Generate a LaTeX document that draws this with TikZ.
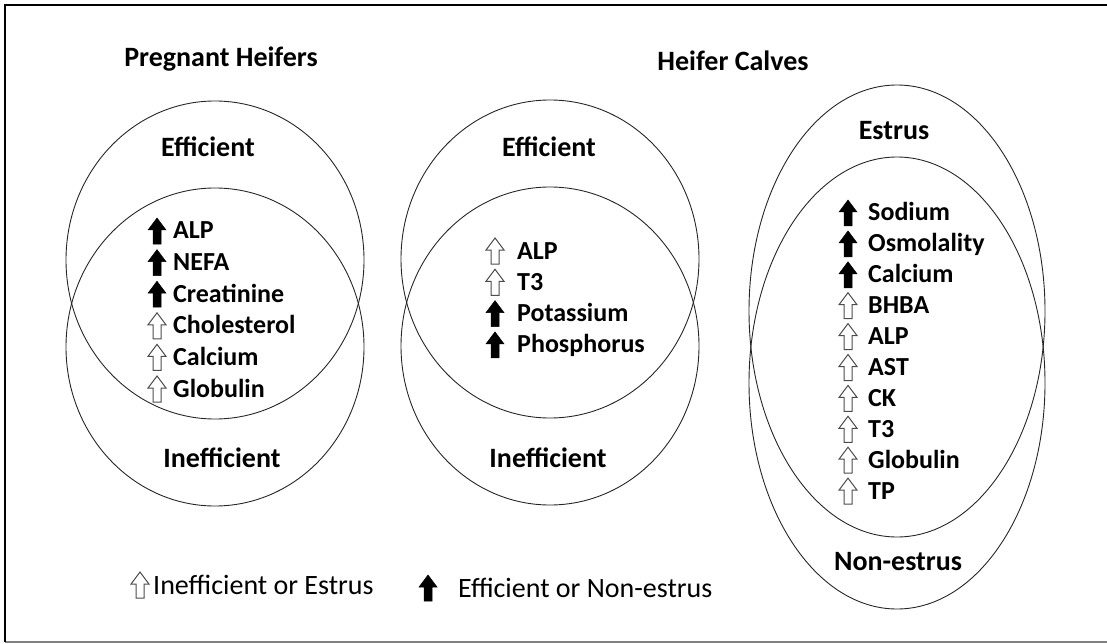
\documentclass[tikz,border=0pt]{standalone}
\usepackage{fontspec}
\setmainfont{Carlito}
\usepackage{tikz}
\usetikzlibrary{positioning}
\tikzset{
  fullarrow/.pic={\filldraw[black, line width=0.5pt] (-4,13) -- (-4,-1) -- (-9,-1) -- (0,-13) -- (9,-1) -- (4,-1) -- (4,13) -- cycle;},
  openarrow/.pic={\filldraw[fill=white, draw=black!70, line width=1pt] (-4,13) -- (-4,-1) -- (-9,-1) -- (0,-13) -- (9,-1) -- (4,-1) -- (4,13) -- cycle;},
  item/.style={anchor=west, inner sep=0pt, text height=17pt, text depth=1pt, font=\bfseries\fontsize{26}{26}\selectfont},
  label/.style={font=\bfseries\fontsize{28}{28}\selectfont},
  legend/.style={anchor=west, inner sep=0pt, font=\fontsize{28}{28}\selectfont},
  set/.style={line width=0.9pt, black!85}
}

\begin{document}
\begin{tikzpicture}[x=1pt, y=-1pt]
    \useasboundingbox (0,0) rectangle (1107,644);
    % FRAME
    \draw[gray, line width=1.2pt] (1107,642) -- (5,642);
    \draw[line width=2.4pt] (5,642) -- (5,5) -- (1107,5);
    % TITLES
    \node[label] (ph) at (221,59) {Pregnant Heifers};
    \node[label] (hc) at (733,61) {Heifer Calves};
    % PREGNANT HEIFERS
    \draw[set] (215,260) ellipse [x radius=149, y radius=159];
    \draw[set] (215,347) ellipse [x radius=149, y radius=159];
    \node[label] (effa) at (208,147) {Efficient};
    \node[label] (ineffa) at (222,458) {Inefficient};
    \foreach \name/\kind [count=\i] in {ALP/full, NEFA/full, Creatinine/full, Cholesterol/open, Calcium/open, Globulin/open} {
        \node[item] (a\i) at (173, {231+31.6*(\i-1)}) {\name};
        \pic at ([xshift=-16pt]a\i.west) {\kind arrow};
    }
    % HEIFER CALVES, EFFICIENCY
    \draw[set] (550,259) ellipse [x radius=149, y radius=159];
    \draw[set] (550,346) ellipse [x radius=149, y radius=159];
    \node[label] (effb) at (549,147) {Efficient};
    \node[label] (ineffb) at (548,458) {Inefficient};
    \foreach \name/\kind [count=\i] in {ALP/open, T3/open, Potassium/full, Phosphorus/full} {
        \node[item] (b\i) at (517, {251+31.3*(\i-1)}) {\name};
        \pic at ([xshift=-22pt]b\i.west) {\kind arrow};
    }
    % HEIFER CALVES, ESTRUS
    \draw[set] (897,311) ellipse [x radius=148, y radius=226];
    \draw[set] (897,383) ellipse [x radius=148, y radius=226];
    \node[label] (es) at (894,131) {Estrus};
    \node[label] (nes) at (898,562) {Non-estrus};
    \foreach \name/\kind [count=\i] in {Sodium/full, Osmolality/full, Calcium/full, BHBA/open, ALP/open, AST/open, CK/open, T3/open, Globulin/open, TP/open} {
        \node[item] (c\i) at (868, {213+30.9*(\i-1)}) {\name};
        \pic at ([xshift=-20pt]c\i.west) {\kind arrow};
    }
    % LEGEND
    \node[legend] (lo) at (153,585) {Inefficient or Estrus};
    \pic at ([xshift=-13pt]lo.west) {openarrow};
    \node[legend] (lf) at (458,588) {Efficient or Non-estrus};
    \pic at ([xshift=-30pt]lf.west) {fullarrow};
\end{tikzpicture}
\end{document}
